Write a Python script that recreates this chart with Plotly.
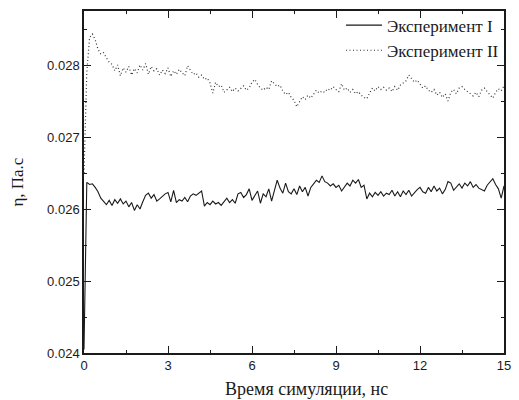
import plotly.graph_objects as go

time_ns = [round(i * 0.1, 1) for i in range(151)]

eta_exp1 = [
    0.02405, 0.02637, 0.02634, 0.02635, 0.02630, 0.02624, 0.02615, 0.02610, 0.02606, 0.02612,
    0.02605, 0.02613, 0.02608, 0.02614, 0.02607, 0.02611, 0.02603, 0.02609, 0.02598, 0.02606,
    0.02600, 0.02610, 0.02619, 0.02622, 0.02615, 0.02620, 0.02611, 0.02614, 0.02618, 0.02621,
    0.02623, 0.02610, 0.02626, 0.02609, 0.02613, 0.02611, 0.02616, 0.02610, 0.02618, 0.02621,
    0.02619, 0.02622, 0.02625, 0.02604, 0.02609, 0.02606, 0.02611, 0.02607, 0.02609, 0.02605,
    0.02610, 0.02615, 0.02609, 0.02613, 0.02608, 0.02621, 0.02623, 0.02616, 0.02620, 0.02628,
    0.02612, 0.02619, 0.02625, 0.02608, 0.02621, 0.02617, 0.02628, 0.02611, 0.02624, 0.02640,
    0.02629, 0.02622, 0.02636, 0.02624, 0.02621, 0.02628, 0.02620, 0.02632, 0.02624, 0.02630,
    0.02618, 0.02630, 0.02635, 0.02640, 0.02637, 0.02646, 0.02638, 0.02636, 0.02632, 0.02635,
    0.02630, 0.02633, 0.02625, 0.02630, 0.02636, 0.02632, 0.02640, 0.02636, 0.02641, 0.02630,
    0.02633, 0.02614, 0.02622, 0.02617, 0.02623, 0.02619, 0.02624, 0.02618, 0.02622, 0.02620,
    0.02626, 0.02618, 0.02624, 0.02617, 0.02625, 0.02620, 0.02626, 0.02618, 0.02623, 0.02627,
    0.02630, 0.02624, 0.02622, 0.02630, 0.02624, 0.02632, 0.02625, 0.02629, 0.02621, 0.02627,
    0.02638, 0.02636, 0.02626, 0.02631, 0.02635, 0.02629, 0.02636, 0.02632, 0.02638, 0.02630,
    0.02634, 0.02629, 0.02627, 0.02625, 0.02633, 0.02637, 0.02642, 0.02634, 0.02628, 0.02615,
    0.02632,
]

eta_exp2 = [
    0.02650, 0.02790, 0.02838, 0.02843, 0.02835, 0.02822, 0.02815, 0.02817, 0.02810, 0.02804,
    0.02801, 0.02792, 0.02800, 0.02785, 0.02796, 0.02790, 0.02798, 0.02786, 0.02795, 0.02789,
    0.02800, 0.02793, 0.02802, 0.02787, 0.02798, 0.02792, 0.02795, 0.02786, 0.02793, 0.02788,
    0.02796, 0.02784, 0.02792, 0.02787, 0.02794, 0.02790, 0.02785, 0.02799, 0.02792, 0.02787,
    0.02789, 0.02783, 0.02786, 0.02780, 0.02782, 0.02775, 0.02761, 0.02776, 0.02770, 0.02772,
    0.02762, 0.02766, 0.02769, 0.02763, 0.02768, 0.02764, 0.02767, 0.02771, 0.02765, 0.02768,
    0.02776, 0.02780, 0.02773, 0.02768, 0.02765, 0.02769, 0.02766, 0.02778, 0.02774, 0.02770,
    0.02772, 0.02764, 0.02759, 0.02762, 0.02755, 0.02751, 0.02742, 0.02750, 0.02756, 0.02752,
    0.02758, 0.02754, 0.02760, 0.02765, 0.02761, 0.02764, 0.02762, 0.02767, 0.02765, 0.02770,
    0.02766, 0.02763, 0.02774, 0.02765, 0.02768, 0.02762, 0.02766, 0.02760, 0.02763, 0.02758,
    0.02755, 0.02753, 0.02761, 0.02768, 0.02764, 0.02770, 0.02766, 0.02769, 0.02765, 0.02768,
    0.02763, 0.02770, 0.02765, 0.02772, 0.02775, 0.02778, 0.02786, 0.02781, 0.02776, 0.02779,
    0.02773, 0.02768, 0.02771, 0.02765, 0.02762, 0.02766, 0.02758, 0.02762, 0.02755, 0.02760,
    0.02750, 0.02762, 0.02766, 0.02760, 0.02768, 0.02770, 0.02766, 0.02763, 0.02760, 0.02757,
    0.02762, 0.02756, 0.02765, 0.02768, 0.02763, 0.02758, 0.02754, 0.02762, 0.02767, 0.02764,
    0.02771,
]

x_ticks = [0, 3, 6, 9, 12, 15]
y_ticks = [0.024, 0.025, 0.026, 0.027, 0.028]
series_names = ["Эксперимент I", "Эксперимент II"]

serif = "Liberation Serif, Times New Roman, serif"
sans = "Liberation Sans, Arial, sans-serif"
ink = "#1a1a1a"

fig = go.Figure()
fig.add_trace(go.Scatter(x=time_ns, y=eta_exp1, mode="lines", name=series_names[0],
                         line=dict(color=ink, width=1.1)))
fig.add_trace(go.Scatter(x=time_ns, y=eta_exp2, mode="lines", name=series_names[1],
                         line=dict(color="#333333", width=1.2, dash="1px,2.5px")))

axis_common = dict(
    showline=True, linecolor=ink, linewidth=1.5, mirror="ticks",
    ticks="inside", ticklen=7, tickwidth=1.2, tickcolor=ink,
    showgrid=False, zeroline=False,
    tickfont=dict(family=sans, size=13, color=ink),
)

fig.update_xaxes(range=[0, 15], tickvals=x_ticks, ticktext=[str(v) for v in x_ticks],
                 minor=dict(ticks="inside", ticklen=3, tickcolor=ink, dtick=1.5, tick0=0, showgrid=False),
                 **axis_common)
fig.update_yaxes(range=[0.024, 0.02875], tickvals=y_ticks, ticktext=[f"{v:.3f}" for v in y_ticks],
                 minor=dict(ticks="inside", ticklen=3, tickcolor=ink, dtick=0.0005, tick0=0.024, showgrid=False),
                 **axis_common)

fig.update_layout(
    width=519, height=400,
    margin=dict(l=84, r=8, t=10, b=47),
    paper_bgcolor="white", plot_bgcolor="white",
    showlegend=True,
    legend=dict(x=1.0, y=1.01, xanchor="right", yanchor="top",
                bgcolor="rgba(0,0,0,0)", borderwidth=0,
                font=dict(family=serif, size=17, color=ink),
                tracegroupgap=0, itemwidth=36),
    annotations=[
        dict(text="Время симуляции, нс", xref="paper", yref="paper",
             x=0.5 + 13 / 427, y=-0.105, xanchor="center", yanchor="middle",
             showarrow=False, font=dict(family=serif, size=18, color=ink)),
        dict(text="η, Па.с", xref="paper", yref="paper",
             x=-68 / 427, y=(353 - 182) / 343, xanchor="center", yanchor="middle",
             textangle=-90, showarrow=False, font=dict(family=serif, size=17, color=ink)),
    ],
)

fig.write_html("out.html")
